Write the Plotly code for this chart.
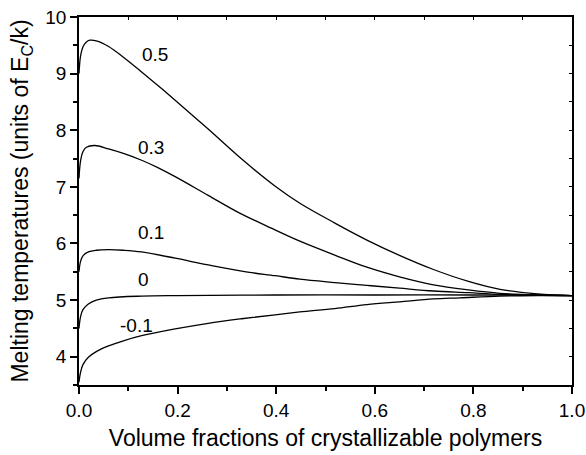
import plotly.graph_objects as go

x_05 = [0.0, 0.003, 0.008, 0.015, 0.022, 0.035, 0.06, 0.09, 0.127, 0.16, 0.195, 0.262, 0.33, 0.398, 0.448, 0.519, 0.584, 0.65, 0.719, 0.79, 0.854, 0.93, 1.0]
y_05 = [9.0, 9.3, 9.47, 9.56, 9.59, 9.58, 9.48, 9.29, 9.03, 8.79, 8.53, 8.02, 7.49, 7.01, 6.71, 6.36, 6.06, 5.79, 5.54, 5.33, 5.19, 5.11, 5.08]

x_03 = [0.0, 0.003, 0.008, 0.015, 0.032, 0.06, 0.09, 0.127, 0.16, 0.195, 0.262, 0.323, 0.39, 0.448, 0.52, 0.584, 0.65, 0.719, 0.79, 0.854, 0.93, 1.0]
y_03 = [7.15, 7.45, 7.62, 7.70, 7.73, 7.67, 7.59, 7.47, 7.34, 7.18, 6.85, 6.55, 6.27, 6.04, 5.79, 5.58, 5.41, 5.27, 5.18, 5.12, 5.09, 5.08]

x_01 = [0.0, 0.003, 0.008, 0.019, 0.035, 0.06, 0.09, 0.127, 0.195, 0.262, 0.33, 0.398, 0.448, 0.519, 0.584, 0.65, 0.719, 0.79, 0.854, 0.93, 1.0]
y_01 = [5.5, 5.68, 5.78, 5.85, 5.88, 5.89, 5.88, 5.85, 5.74, 5.62, 5.51, 5.43, 5.37, 5.31, 5.26, 5.21, 5.16, 5.13, 5.10, 5.09, 5.08]

x_00 = [0.0, 0.003, 0.008, 0.019, 0.035, 0.06, 0.127, 0.2, 0.4, 0.6, 0.8, 1.0]
y_00 = [4.5, 4.7, 4.83, 4.93, 5.0, 5.04, 5.07, 5.08, 5.09, 5.09, 5.09, 5.08]

x_m01 = [0.0, 0.003, 0.008, 0.019, 0.035, 0.06, 0.09, 0.127, 0.195, 0.262, 0.33, 0.398, 0.448, 0.519, 0.584, 0.651, 0.719, 0.773, 0.854, 0.93, 1.0]
y_m01 = [3.55, 3.72, 3.86, 3.99, 4.09, 4.19, 4.28, 4.37, 4.49, 4.59, 4.67, 4.74, 4.79, 4.85, 4.92, 4.97, 5.02, 5.04, 5.07, 5.08, 5.08]

series = [
    ("0.5", x_05, y_05),
    ("0.3", x_03, y_03),
    ("0.1", x_01, y_01),
    ("0", x_00, y_00),
    ("-0.1", x_m01, y_m01),
]

label_text = ["0.5", "0.3", "0.1", "0", "-0.1"]
label_x = [0.154, 0.146, 0.146, 0.130, 0.116]
label_y = [9.33, 7.70, 6.19, 5.36, 4.55]

FONT = "Liberation Sans, Arial, sans-serif"

fig = go.Figure()
for name, xs, ys in series:
    fig.add_trace(go.Scatter(x=xs, y=ys, mode="lines", name=name,
                             line=dict(color="black", width=1.3, shape="spline", smoothing=1.0),
                             showlegend=False, hoverinfo="skip"))

# invisible trace for mirrored tick axes
fig.add_trace(go.Scatter(x=[0, 1], y=[3.5, 10], xaxis="x2", yaxis="y2", mode="markers",
                         marker=dict(opacity=0), showlegend=False, hoverinfo="skip"))

for t, xx, yy in zip(label_text, label_x, label_y):
    fig.add_annotation(x=xx, y=yy, text=t, showarrow=False,
                       font=dict(family=FONT, size=19, color="black"))

fig.update_layout(
    width=586, height=455,
    margin=dict(l=79, r=14, t=17, b=70, autoexpand=False),
    paper_bgcolor="white", plot_bgcolor="white",
    font=dict(family=FONT, color="black"),
    xaxis=dict(range=[0, 1], tickvals=[0, 0.2, 0.4, 0.6, 0.8, 1.0],
               ticktext=["0.0", "0.2", "0.4", "0.6", "0.8", "1.0"], automargin=False,
               ticks="outside", ticklen=7, tickwidth=1.5, tickcolor="black",
               minor=dict(dtick=0.1, ticks="outside", ticklen=4, tickwidth=1.5, tickcolor="black"),
               showline=True, linecolor="black", linewidth=1.5, showgrid=False, zeroline=False,
               tickfont=dict(size=19),
               title=dict(text="Volume fractions of crystallizable polymers", font=dict(size=23), standoff=10)),
    yaxis=dict(range=[3.5, 10], tickvals=[4, 5, 6, 7, 8, 9, 10], automargin=False,
               ticks="outside", ticklen=7, tickwidth=1.5, tickcolor="black",
               minor=dict(dtick=0.5, ticks="outside", ticklen=4, tickwidth=1.5, tickcolor="black"),
               showline=True, linecolor="black", linewidth=1.5, showgrid=False, zeroline=False,
               tickfont=dict(size=19),
               title=dict(text="Melting temperatures (units of E<sub>C</sub>/k)", font=dict(size=23), standoff=10)),
    xaxis2=dict(overlaying="x", side="top", range=[0, 1], dtick=0.1, ticks="inside", ticklen=3,
                automargin=False,
                tickwidth=1.2, tickcolor="black", showticklabels=False, showline=True,
                linecolor="black", linewidth=1.5, showgrid=False, zeroline=False),
    yaxis2=dict(overlaying="y", side="right", range=[3.5, 10], dtick=0.5, tick0=0, ticks="inside", ticklen=3,
                automargin=False,
                tickwidth=1.2, tickcolor="black", showticklabels=False, showline=True,
                linecolor="black", linewidth=1.5, showgrid=False, zeroline=False),
)

fig.write_html("out.html")
